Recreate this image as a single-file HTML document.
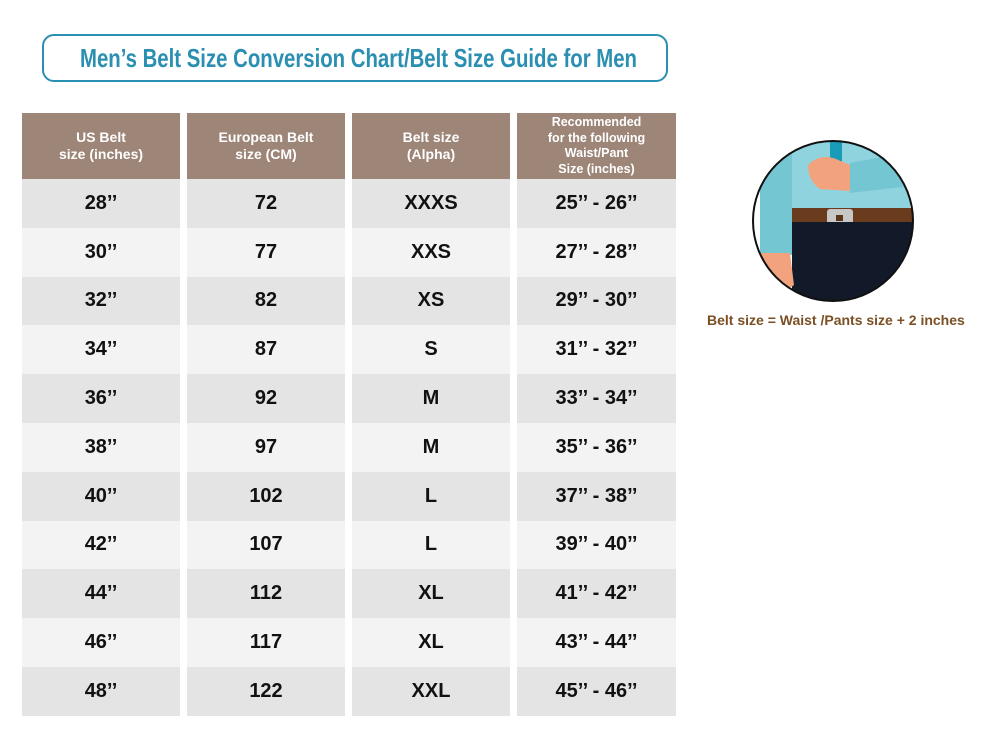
<!DOCTYPE html>
<html><head><meta charset="utf-8"><style>
body{margin:0;width:1000px;height:753px;background:#fff;position:relative;overflow:hidden;font-family:"Liberation Sans",sans-serif}
.title{position:absolute;left:42px;top:34px;width:622px;height:44px;border:2px solid #2a8fb0;border-radius:12px}
.col{position:absolute;top:113px;width:158px}
.hd{height:66px;background:#9d8678;color:#fff;font-weight:bold;font-size:14px;display:flex;align-items:center;justify-content:center;text-align:center;line-height:17px}
.hd.s{font-size:12.5px;line-height:15.5px}
.r{height:48.8px;display:flex;align-items:center;justify-content:center;font-size:20px;font-weight:bold;color:#111}
.r:nth-child(even){background:#e4e4e4}
.r:nth-child(odd){background:#f3f3f3}
.cap{position:absolute;left:707px;top:312px;color:#7a4f24;font-weight:bold;font-size:14px;white-space:nowrap}
</style></head><body>
<div class="title"><svg width="622" height="44" style="display:block"><text x="36" y="31" textLength="557" lengthAdjust="spacingAndGlyphs" font-family="Liberation Sans, sans-serif" font-weight="bold" font-size="26" fill="#2a8fb0">Men’s Belt Size Conversion Chart/Belt Size Guide for Men</text></svg></div>

<div class="col" style="left:22px"><div class="hd">US Belt<br>size (inches)</div>
<div class="r">28’’</div><div class="r">30’’</div><div class="r">32’’</div><div class="r">34’’</div><div class="r">36’’</div><div class="r">38’’</div><div class="r">40’’</div><div class="r">42’’</div><div class="r">44’’</div><div class="r">46’’</div><div class="r">48’’</div></div>

<div class="col" style="left:187px"><div class="hd">European Belt<br>size (CM)</div>
<div class="r">72</div><div class="r">77</div><div class="r">82</div><div class="r">87</div><div class="r">92</div><div class="r">97</div><div class="r">102</div><div class="r">107</div><div class="r">112</div><div class="r">117</div><div class="r">122</div></div>

<div class="col" style="left:352px"><div class="hd">Belt size<br>(Alpha)</div>
<div class="r">XXXS</div><div class="r">XXS</div><div class="r">XS</div><div class="r">S</div><div class="r">M</div><div class="r">M</div><div class="r">L</div><div class="r">L</div><div class="r">XL</div><div class="r">XL</div><div class="r">XXL</div></div>

<div class="col" style="left:517px;width:159px"><div class="hd s">Recommended<br>for the following<br>Waist/Pant<br>Size (inches)</div>
<div class="r">25’’ - 26’’</div><div class="r">27’’ - 28’’</div><div class="r">29’’ - 30’’</div><div class="r">31’’ - 32’’</div><div class="r">33’’ - 34’’</div><div class="r">35’’ - 36’’</div><div class="r">37’’ - 38’’</div><div class="r">39’’ - 40’’</div><div class="r">41’’ - 42’’</div><div class="r">43’’ - 44’’</div><div class="r">45’’ - 46’’</div></div>

<svg style="position:absolute;left:740px;top:125px" width="190" height="190" viewBox="0 0 190 190">
<defs><clipPath id="c"><circle cx="93" cy="96" r="80"/></clipPath></defs>
<g clip-path="url(#c)">
<rect x="0" y="0" width="190" height="190" fill="#fff"/>
<rect x="50" y="0" width="120" height="95" fill="#8fd3df"/>
<rect x="20" y="10" width="32" height="120" fill="#74c6d3"/>
<rect x="90" y="0" width="12" height="60" fill="#1a9bb8"/>
<path d="M110 38 L180 25 L180 60 L110 68 Z" fill="#74c6d3"/>
<path d="M68 40 Q80 28 96 34 L110 40 L110 66 L80 64 Q68 56 68 40 Z" fill="#f2a27c"/>
<rect x="52" y="83" width="120" height="14" fill="#6b3b1e"/>
<rect x="87" y="84" width="26" height="20" rx="3" fill="#c7c7c7"/>
<rect x="96" y="90" width="7" height="6" fill="#5a3318"/>
<rect x="52" y="97" width="120" height="90" fill="#121a29"/>
<path d="M20 128 L50 128 L54 160 L40 170 L22 150 Z" fill="#f2a27c"/>
</g>
<circle cx="93" cy="96" r="80" fill="none" stroke="#111" stroke-width="2"/>
</svg>
<div class="cap">Belt size = Waist /Pants size + 2 inches</div>
</body></html>
